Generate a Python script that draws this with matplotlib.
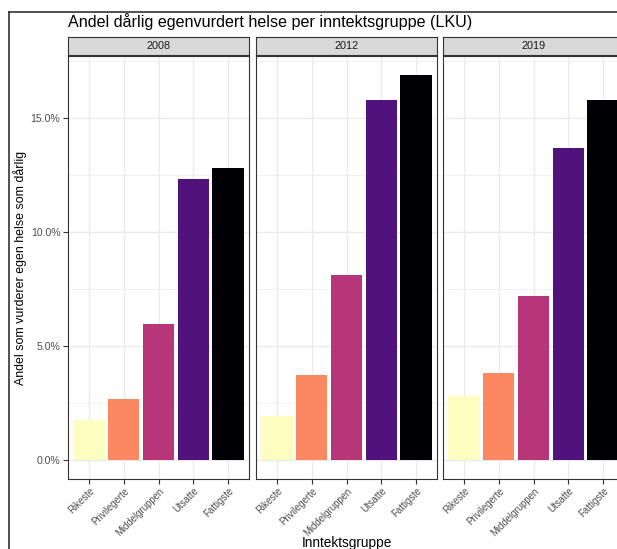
import numpy as np
import matplotlib
matplotlib.use("Agg")
import matplotlib.pyplot as plt
from matplotlib.lines import Line2D

plt.rcParams['font.family'] = ['Liberation Sans', 'DejaVu Sans']

# data (share reporting poor self-rated health, %)
years = ["2008", "2012", "2019"]
groups = ["Rikeste", "Privilegerte", "Middelgruppen", "Utsatte", "Fattigste"]
andel_2008 = [1.75, 2.66, 5.94, 12.3, 12.8]
andel_2012 = [1.92, 3.71, 8.08, 15.76, 16.86]
andel_2019 = [2.81, 3.82, 7.17, 13.66, 15.79]
colors = ["#FCFDBF", "#FB8861", "#B63679", "#51127C", "#000004"]

W, H = 617, 549
fig = plt.figure(figsize=(W / 100, H / 100), dpi=100)


def px(x0, y0, x1, y1):
    '''pixel box (top-left origin) -> figure fraction'''
    return [x0 / W, 1 - y1 / H, (x1 - x0) / W, (y1 - y0) / H]


series = [andel_2008, andel_2012, andel_2019]
ymax_data = max(max(s) for s in series)
ylim = (-0.05 * ymax_data, 1.05 * ymax_data)
xpos = np.arange(1, len(groups) + 1)

panel_x = [(68, 249), (256, 437), (443, 624)]
grid_col = "#EBEBEB"
border_col = "#333333"

for i, (year, vals) in enumerate(zip(years, series)):
    x0, x1 = panel_x[i]
    ax = fig.add_axes(px(x0, 56, x1, 479))
    ax.bar(xpos, vals, width=0.9, color=colors, zorder=3)
    ax.set_xlim(0.4, len(groups) + 0.6)
    ax.set_ylim(*ylim)
    ax.set_yticks([0, 5, 10, 15])
    ax.set_yticks([2.5, 7.5, 12.5, 17.5], minor=True)
    ax.set_xticks(xpos)
    ax.grid(True, which='major', color=grid_col, lw=1.0, zorder=0)
    ax.grid(True, which='minor', axis='y', color=grid_col, lw=0.5, zorder=0)
    ax.tick_params(which='minor', length=0)
    ax.tick_params(which='major', length=3.5, width=0.8, color=border_col,
                   labelsize=7.6, labelcolor="#4D4D4D", pad=2)
    ax.tick_params(axis='x', labelsize=6.9, pad=1.5)
    ax.set_xticklabels(groups, rotation=45, ha='right', va='top',
                       rotation_mode='anchor')
    if i == 0:
        ax.set_yticklabels([f"{v:.1f}%" for v in [0, 5, 10, 15]])
    else:
        ax.tick_params(axis='y', which='both', left=False, labelleft=False)
    for sp in ax.spines.values():
        sp.set_color(border_col)
        sp.set_linewidth(0.8)

    # facet strip
    sax = fig.add_axes(px(x0, 37, x1, 55))
    sax.set_facecolor("#D9D9D9")
    sax.set_xticks([])
    sax.set_yticks([])
    for sp in sax.spines.values():
        sp.set_color(border_col)
        sp.set_linewidth(0.8)
    sax.text(0.5, 0.5, year, ha='center', va='center', fontsize=7.8,
             color="#1A1A1A", transform=sax.transAxes)

fig.text(68 / W, 1 - 27 / H, "Andel dårlig egenvurdert helse per inntektsgruppe (LKU)",
         fontsize=11.6, ha='left', va='baseline', color="black")
fig.text(347 / W, 1 - 547 / H, "Inntektsgruppe", fontsize=9.8,
         ha='center', va='baseline', color="black")
fig.text(20 / W, 1 - 268 / H, "Andel som vurderer egen helse som dårlig",
         fontsize=8.9, rotation=90, ha='center', va='center', color="black")

# screenshot frame
fig.add_artist(Line2D([9 / W, 1], [1 - 12 / H, 1 - 12 / H], color="#333333", lw=1.2))
fig.add_artist(Line2D([9 / W, 9 / W], [0, 1 - 12 / H], color="#333333", lw=1.2))

fig.savefig("out.png", dpi=100)
